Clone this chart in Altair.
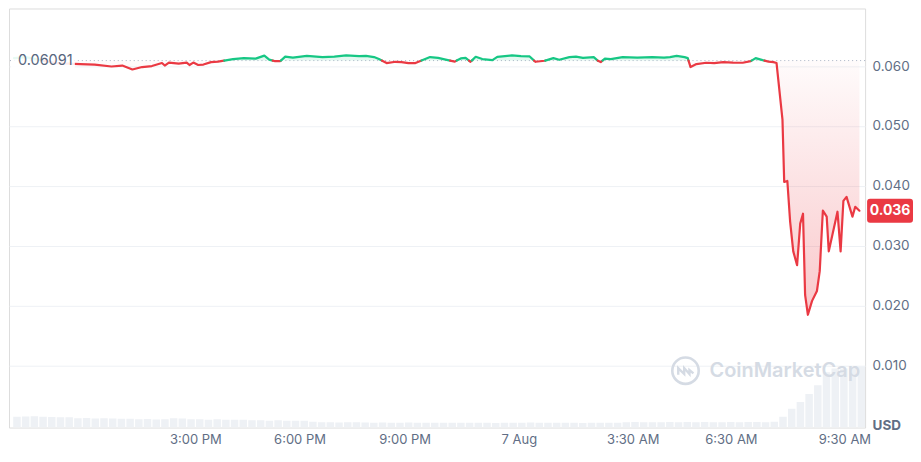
import altair as alt
import pandas as pd
import numpy as np

REF_PRICE = 0.06091
REF_LABEL = "0.06091"
LAST_LABEL = "0.036"

# time in hours since 6 Aug 00:00
hours = [9.79, 10.13, 10.55, 10.98, 11.69, 12.11, 12.59, 12.90, 13.19, 13.47, 13.75, 14.04, 14.12, 14.24,
         14.52, 14.75, 14.83, 14.94, 15.08, 15.23, 15.45, 15.65, 15.82, 16.08, 16.39, 16.73, 16.98, 17.12,
         17.27, 17.44, 17.58, 17.80, 18.20, 18.65, 18.99, 19.33, 19.70, 19.90, 20.13, 20.27, 20.38, 20.49,
         20.75, 20.92, 21.12, 21.32, 21.46, 21.74, 21.97, 22.25, 22.45, 22.62, 22.76, 22.90, 23.05, 23.24,
         23.53, 23.67, 24.09, 24.35, 24.60, 24.72, 24.77, 25.03, 25.28, 25.45, 25.74, 25.93, 26.13, 26.44,
         26.56, 26.64, 26.76, 26.93, 27.27, 27.69, 28.12, 28.46, 28.63, 28.82, 29.05, 29.14, 29.22, 29.39,
         29.67, 29.90, 30.16, 30.44, 30.72, 30.95, 31.09, 31.29, 31.46, 31.60, 31.69, 31.86, 31.91, 32.00,
         32.08, 32.17, 32.28, 32.37, 32.45, 32.51, 32.59, 32.71, 32.85, 32.93, 33.02, 33.13, 33.19, 33.44,
         33.53, 33.61, 33.70, 33.87, 33.95, 34.07]

prices = [0.06132, 0.06149, 0.06099, 0.06050, 0.06033, 0.06025, 0.05992, 0.06008, 0.05942, 0.05983,
          0.06000, 0.06050, 0.06008, 0.06058, 0.06041, 0.06058, 0.06017, 0.06058, 0.06017, 0.06025,
          0.06066, 0.06074, 0.06090, 0.06116, 0.06132, 0.06124, 0.06174, 0.06107, 0.06083, 0.06083,
          0.06157, 0.06140, 0.06170, 0.06149, 0.06157, 0.06177, 0.06165, 0.06170, 0.06149, 0.06116,
          0.06083, 0.06050, 0.06071, 0.06066, 0.06050, 0.06050, 0.06083, 0.06149, 0.06137, 0.06099,
          0.06074, 0.06127, 0.06137, 0.06071, 0.06154, 0.06116, 0.06099, 0.06154, 0.06177, 0.06165,
          0.06160, 0.06094, 0.06071, 0.06088, 0.06132, 0.06104, 0.06149, 0.06157, 0.06137, 0.06149,
          0.06088, 0.06066, 0.06124, 0.06116, 0.06149, 0.06140, 0.06149, 0.06140, 0.06149, 0.06170,
          0.06149, 0.06132, 0.05983, 0.06033, 0.06055, 0.06050, 0.06066, 0.06058, 0.06055, 0.06083,
          0.06132, 0.06099, 0.06074, 0.06066, 0.06050, 0.05107, 0.04066, 0.04083, 0.03405, 0.02909,
          0.02678, 0.03372, 0.03537, 0.02182, 0.01851, 0.02083, 0.02248, 0.02579, 0.03587, 0.03488,
          0.02909, 0.03570, 0.02909, 0.03752, 0.03818, 0.03488, 0.03653, 0.03587]

# volume bars, one per 15 minutes (arbitrary units)
vol_start = 9.875
vol_step = 0.25
volumes = [1.10, 1.12, 1.15, 1.10, 1.08, 1.05, 1.05,
           0.95, 0.97, 0.92, 0.95, 0.92, 0.90, 0.90,
           0.85, 0.86, 0.82, 0.85,
           0.95, 0.92,
           0.85, 0.84, 0.80, 0.85, 0.80, 0.78, 0.80,
           0.75, 0.74, 0.70, 0.74, 0.70, 0.68, 0.70,
           0.58, 0.55, 0.55, 0.52, 0.55, 0.54, 0.52, 0.50, 0.52, 0.50, 0.50, 0.52, 0.50, 0.48, 0.50, 0.50, 0.48, 0.50,
           0.48, 0.50, 0.48, 0.46, 0.48, 0.50, 0.50, 0.52, 0.50, 0.48, 0.48, 0.50, 0.48, 0.46, 0.48, 0.50, 0.48, 0.50,
           0.55, 0.56, 0.55, 0.55, 0.54, 0.56, 0.55, 0.57, 0.55, 0.56, 0.55, 0.54, 0.56, 0.55, 0.57, 0.56, 0.55, 0.58,
           1.10, 1.90, 2.60, 3.40, 4.30, 5.60, 6.00, 6.00, 6.10, 6.20]

tick_values = [15.0, 17.99, 21.01, 24.29, 27.56, 30.38, 33.64]
tick_labels = ["3:00 PM", "6:00 PM", "9:00 PM", "7 Aug", "3:30 AM", "6:30 AM", "9:30 AM"]
y_ticks = [0, 0.01, 0.02, 0.03, 0.04, 0.05, 0.06]

assert len(hours) == len(prices)

RED = "#ea3943"
GREEN = "#16c784"
GRAY = "#616e85"
GRID = "#eef1f5"
FONT = "Inter"

# ---- insert crossing points with the reference line
pts = []
for i, (h, p) in enumerate(zip(hours, prices)):
    if i > 0:
        h0, p0 = hours[i - 1], prices[i - 1]
        if (p0 - REF_PRICE) * (p - REF_PRICE) < 0:
            t = (REF_PRICE - p0) / (p - p0)
            pts.append((h0 + t * (h - h0), REF_PRICE, True))
    pts.append((h, p, False))

rows = []
seg = 0
for h, p, cross in pts:
    rows.append(dict(h=h, p=p, seg=seg, cross=cross))
    if cross:
        seg += 1
        rows.append(dict(h=h, p=p, seg=seg, cross=cross))
line_df = pd.DataFrame(rows)
dirs = line_df[~line_df.cross].groupby("seg").p.first().apply(lambda v: "up" if v > REF_PRICE else "down")
line_df["dir"] = line_df.seg.map(dirs)

area_df = pd.DataFrame({
    "h": [q[0] for q in pts],
    "lo": [min(q[1], REF_PRICE) for q in pts],
    "hi": [max(q[1], REF_PRICE) for q in pts],
    "ref": REF_PRICE,
})

vol_df = pd.DataFrame({
    "h": vol_start + vol_step * np.arange(len(volumes)),
    "v": volumes,
})

x_dom = [9.79, 34.09]
label_expr = "".join(
    f"abs(datum.value - {v}) < 0.01 ? '{l}' : " for v, l in zip(tick_values, tick_labels)
) + "''"

x_enc = alt.X(
    "h:Q",
    scale=alt.Scale(domain=x_dom, nice=False, zero=False),
    axis=alt.Axis(
        values=tick_values, labelExpr=label_expr, grid=False, domain=False, ticks=False,
        labelPadding=6, labelFontSize=13, labelColor=GRAY, labelFont=FONT, title=None,
        labelFlush=False,
    ),
    title=None,
)
x_plain = alt.X("h:Q", scale=alt.Scale(domain=x_dom, nice=False, zero=False), title=None)

y_scale = alt.Scale(domain=[-0.0003, 0.0696], nice=False, zero=False)
y_axis = alt.Axis(
    orient="right", values=y_ticks,
    labelExpr="datum.value == 0 ? '\u00a0\u00a0USD' : format(datum.value, '.3f')",
    labelFontWeight={"condition": {"test": "datum.value == 0", "value": 700}, "value": 400},
    labelColor=GRAY, labelFontSize=13.5, labelFont=FONT, labelPadding=7,
    domain=False, ticks=False, grid=True, gridColor=GRID,
    gridOpacity={"condition": {"test": "datum.value == 0", "value": 0}, "value": 1},
    title=None,
)

volume = alt.Chart(vol_df).mark_bar(color="#eef1f5", size=7.5, clip=True).encode(
    x=x_enc,
    y=alt.Y("v:Q", scale=alt.Scale(domain=[0, 42.5], nice=False), axis=None, title=None),
)

red_area = alt.Chart(area_df).mark_area(
    color=alt.Gradient(
        gradient="linear",
        stops=[alt.GradientStop(color="rgba(234,57,67,0.02)", offset=0),
               alt.GradientStop(color="rgba(234,57,67,0.28)", offset=1)],
        x1=1, x2=1, y1=0, y2=1,
    )
).encode(x=x_plain, y=alt.Y("lo:Q", scale=y_scale, axis=y_axis, title=None), y2="ref:Q")

green_area = alt.Chart(area_df).mark_area(color="rgba(22,199,132,0.12)").encode(
    x=x_plain, y=alt.Y("hi:Q", scale=y_scale, title=None), y2="ref:Q"
)

ref_df = pd.DataFrame({"p": [REF_PRICE], "label": [REF_LABEL]})
ref_rule = alt.Chart(ref_df).mark_rule(color="#a7b1c2", strokeDash=[1, 3], strokeWidth=1).encode(
    y=alt.Y("p:Q", scale=y_scale, title=None)
)

lines = alt.Chart(line_df).mark_line(strokeWidth=2.2, strokeJoin="round", strokeCap="round").encode(
    x=x_plain,
    y=alt.Y("p:Q", scale=y_scale, title=None),
    detail="seg:N",
    color=alt.Color("dir:N", scale=alt.Scale(domain=["up", "down"], range=[GREEN, RED]), legend=None),
    order="h:Q",
)

# label boxes as custom symbols (path spans [-1, 1]; width = sqrt(size))
RECT_PATH = "M -1 -0.28 L 1 -0.28 L 1 0.28 L -1 0.28 Z"
ROUND_PATH = ("M -0.87 -0.52 L 0.87 -0.52 Q 1 -0.52 1 -0.39 L 1 0.39 Q 1 0.52 0.87 0.52 "
              "L -0.87 0.52 Q -1 0.52 -1 0.39 L -1 -0.39 Q -1 -0.52 -0.87 -0.52 Z")

ref_box = alt.Chart(ref_df).mark_point(
    shape=RECT_PATH, filled=True, color="white", opacity=0.9, size=64 * 64, strokeWidth=0
).encode(x=alt.value(34), y=alt.Y("p:Q", scale=y_scale, title=None))
ref_text = alt.Chart(ref_df).mark_text(
    align="left", baseline="middle", fontSize=14.5, font=FONT, color="#58667e"
).encode(x=alt.value(9), y=alt.Y("p:Q", scale=y_scale, title=None), text="label:N")

last_df = pd.DataFrame({"p": [prices[-1]], "label": [LAST_LABEL]})
last_box = alt.Chart(last_df).mark_point(
    shape=ROUND_PATH, filled=True, color=RED, opacity=1, size=46 * 46, strokeWidth=0
).encode(x=alt.value(883), y=alt.Y("p:Q", scale=y_scale, title=None))
last_text = alt.Chart(last_df).mark_text(
    align="center", baseline="middle", fontSize=14, font=FONT, fontWeight=700, color="white"
).encode(x=alt.value(883), y=alt.Y("p:Q", scale=y_scale, title=None), text="label:N")

wm_df = pd.DataFrame({"t": ["CoinMarketCap"]})
WM = "#d5dbe4"
wm_text = alt.Chart(wm_df).mark_text(
    align="left", baseline="middle", fontSize=20, font=FONT, fontWeight=600, color=WM
).encode(x=alt.value(702), y=alt.value(363), text="t:N")
wm_circle = alt.Chart(wm_df).mark_point(
    shape="circle", filled=False, size=700, strokeWidth=2.6, color=WM, opacity=1
).encode(x=alt.value(678), y=alt.value(363))
wm_glyph = alt.Chart(wm_df).mark_point(
    shape="M -0.55 0.3 L -0.55 -0.2 L -0.1 0.25 L -0.1 -0.2 L 0.3 0.25 L 0.3 -0.05 L 0.6 0.2",
    filled=False, size=700, strokeWidth=2.4, color=WM, opacity=1,
).encode(x=alt.value(678), y=alt.value(363))

price_layers = alt.layer(
    red_area, green_area, ref_rule, lines, ref_box, ref_text, last_box, last_text,
    wm_circle, wm_glyph, wm_text,
)

chart = alt.layer(volume, price_layers).resolve_scale(y="independent").properties(
    width=858, height=420, padding=0
).configure_view(stroke=GRID).configure(font=FONT)

chart.save("out.html", embed_options={"renderer": "svg", "actions": False})
